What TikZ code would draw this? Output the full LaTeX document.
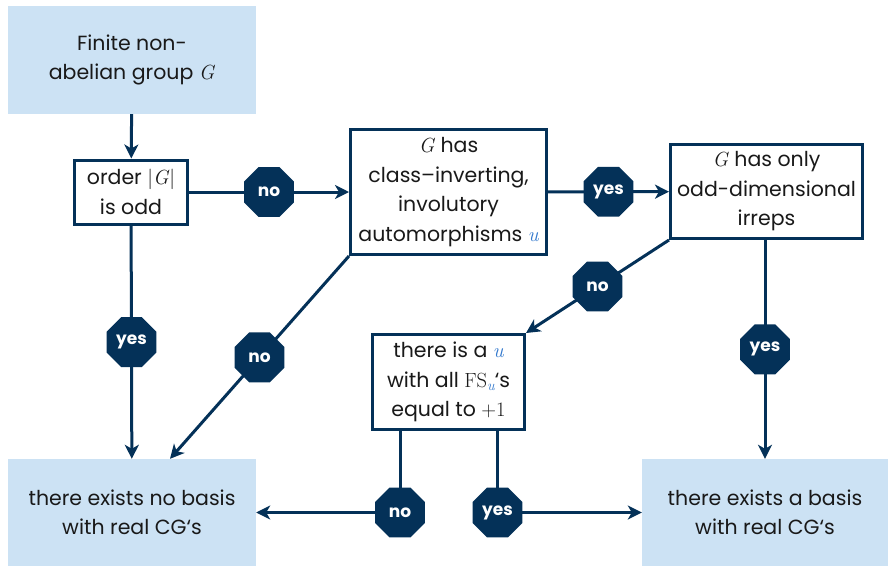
\documentclass[tikz,border=0pt]{standalone}
\usepackage{fontspec}
\setmainfont{Poppins}
\newfontfamily\lmr{Latin Modern Roman}
\usetikzlibrary{arrows.meta,shapes.geometric}
\definecolor{navy}{RGB}{4,49,88}
\definecolor{paleblue}{RGB}{204,226,244}
\definecolor{ublue}{RGB}{50,120,205}
\definecolor{ink}{RGB}{25,25,25}
% serif symbols set in Latin Modern
\newcommand{\gG}{{\lmr\itshape G\/}}
\newcommand{\uvar}{{\lmr\itshape\color{ublue}u}}
\newcommand{\ordG}{{\lmr|\itshape G\/\upshape|}}
\newcommand{\fsu}{{\lmr FS\raisebox{-0.35ex}{\fontsize{14.5}{14.5}\selectfont\itshape\color{ublue}u}}}
\newcommand{\plusone}{{\lmr +1}}
\tikzset{
  boxtext/.style={align=center, text=ink, inner sep=0pt,
    font=\fontsize{20.5}{29.5}\selectfont},
  decision/.style={boxtext, draw=navy, line width=3pt, fill=white},
  terminal/.style={boxtext, fill=paleblue},
  oct/.style={regular polygon, regular polygon sides=8, fill=navy,
    text=white, font=\bfseries\fontsize{17}{17}\selectfont,
    minimum size=54pt, inner sep=0pt},
  flow/.style={draw=navy, line width=3pt,
    -{Stealth[length=14pt,width=14pt,inset=4pt]}},
}
\begin{document}
\begin{tikzpicture}[x=1pt,y=-1pt]
\useasboundingbox (0,0) rectangle (888,566);

% terminals
\node[terminal, minimum width=248pt, minimum height=108pt] (start) at (132,60)
  {Finite non-\\abelian group \gG};
\node[terminal, minimum width=248pt, minimum height=107pt] (nobasis) at (132,512.5)
  {there exists no basis\\with real CG‘s};
\node[terminal, minimum width=246pt, minimum height=107pt] (basis) at (765,512.5)
  {there exists a basis\\with real CG‘s};

% decisions
\node[decision, minimum width=113pt, minimum height=64pt] (odd) at (131,192)
  {order \ordG\\is odd};
\node[decision, minimum width=196pt, minimum height=125pt] (inv) at (448.5,192)
  {\gG{} has\\class–inverting,\\involutory\\automorphisms \uvar};
\node[decision, minimum width=192pt, minimum height=94pt] (irr) at (766.5,191.5)
  {\gG{} has only\\odd-dimensional\\irreps};
\node[decision, minimum width=152pt, minimum height=95pt] (fs) at (448.5,382)
  {there is a \uvar\\with all \fsu‘s\\equal to \plusone};

% entry points on the lower terminals
\coordinate (nbin) at ([xshift=38pt]nobasis.north);

% connectors
\draw[flow] (start) -- (odd);
\draw[flow] (odd) -- node[oct]{no} (inv);
\draw[flow] (inv) -- node[oct]{yes} (irr);
\draw[flow] (odd) -- node[oct]{yes} (nobasis);
\draw[flow] (inv.south west) -- node[oct]{no} (nbin);
\draw[flow] (irr.south west) -- node[oct]{no} (fs.north east);
\draw[flow] (irr.south -| basis.north) -- node[oct]{yes} (basis.north);
\draw[flow] ([xshift=-48.5pt]fs.south) |- node[oct]{no} (nobasis.east);
\draw[flow] ([xshift=49pt]fs.south) |- node[oct]{yes} (basis.west);
\end{tikzpicture}
\end{document}
